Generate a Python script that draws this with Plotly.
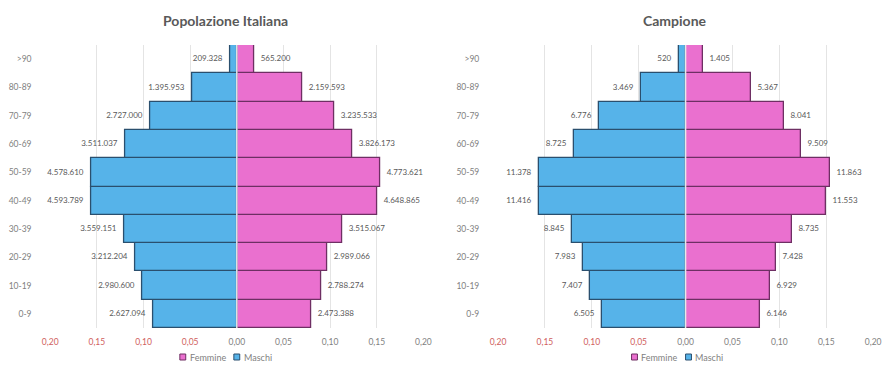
import plotly.graph_objects as go
from plotly.subplots import make_subplots

age_groups = ["0-9", "10-19", "20-29", "30-39", "40-49", "50-59", "60-69", "70-79", "80-89", ">90"]

ita_maschi = [2627094, 2980600, 3212204, 3559151, 4593789, 4578610, 3511037, 2727000, 1395953, 209328]
ita_femmine = [2473388, 2788274, 2989066, 3515067, 4648865, 4773621, 3826173, 3235533, 2159593, 565200]

camp_maschi = [6505, 7407, 7983, 8845, 11416, 11378, 8725, 6776, 3469, 520]
camp_femmine = [6146, 6929, 7428, 8735, 11553, 11863, 9509, 8041, 5367, 1405]

titles = ["Popolazione Italiana", "Campione"]
series_names = ["Femmine", "Maschi"]
tick_vals = [-0.20, -0.15, -0.10, -0.05, 0.0, 0.05, 0.10, 0.15, 0.20]

BLUE = "#56b3e9"
PINK = "#ea70cf"
BLUE_LINE = "#2a4f6e"
PINK_LINE = "#6e2f63"
FONT = "Lato"
GRAY = "#7f7f7f"
RED = "#d0605e"
NB = "\u00a0"


def fmt_it(n):
    return f"{n:,}".replace(",", ".")


def fmt_tick(v):
    s = f"{abs(v):.2f}".replace(".", ",")
    if v < 0:
        return f"<span style='color:{RED}'>{s}</span>"
    return s


fig = make_subplots(rows=1, cols=2, horizontal_spacing=0.08)

datasets = [(ita_maschi, ita_femmine), (camp_maschi, camp_femmine)]
for i, (m, f) in enumerate(datasets):
    col = i + 1
    tm = sum(m)
    tf = sum(f)
    fig.add_trace(go.Bar(
        y=age_groups, x=[v / tf for v in f], orientation="h", name=series_names[0],
        marker=dict(color=PINK, line=dict(color=PINK_LINE, width=1.3)),
        text=[NB * 2 + fmt_it(v) for v in f], textposition="outside",
        textfont=dict(family=FONT, size=8, color="#595959"),
        cliponaxis=False, showlegend=False, hoverinfo="skip"),
        row=1, col=col)
    fig.add_trace(go.Bar(
        y=age_groups, x=[-v / tm for v in m], orientation="h", name=series_names[1],
        marker=dict(color=BLUE, line=dict(color=BLUE_LINE, width=1.3)),
        text=[fmt_it(v) + NB * 2 for v in m], textposition="outside",
        textfont=dict(family=FONT, size=8, color="#595959"),
        cliponaxis=False, showlegend=False, hoverinfo="skip"),
        row=1, col=col)

x_domains = [[43 / 888, 423 / 888], [499 / 888, 881 / 888]]
y_domain = [(365 - 328) / 365, (365 - 45) / 365]
title_centers = [221, 679]
legend_centers = [221, 681]

for i in range(2):
    xa = "xaxis" if i == 0 else "xaxis2"
    ya = "yaxis" if i == 0 else "yaxis2"
    fig.layout[xa].update(
        domain=x_domains[i], range=[-0.2, 0.2], tickvals=tick_vals,
        ticktext=[fmt_tick(v) for v in tick_vals],
        showgrid=True, gridcolor="#e4e4e4", gridwidth=1, zeroline=False,
        showline=False, ticks="outside", ticklen=6, tickcolor="rgba(0,0,0,0)",
        tickfont=dict(family=FONT, size=8.5, color=GRAY), fixedrange=True)
    fig.layout[ya].update(
        domain=y_domain, showgrid=False, zeroline=False, showline=False,
        ticks="outside", ticklen=16, tickcolor="rgba(0,0,0,0)",
        tickfont=dict(family=FONT, size=8.5, color=GRAY), fixedrange=True)
    xref = "x" if i == 0 else "x2"
    fig.add_shape(type="line", xref=xref, yref="paper", x0=0, x1=0,
                  y0=y_domain[0], y1=y_domain[1],
                  line=dict(color="#e8e8e8", width=1.5), layer="above")
    fig.add_annotation(text=titles[i], xref="paper", yref="paper",
                       x=title_centers[i] / 888, y=(365 - 21) / 365,
                       xanchor="center", yanchor="middle", showarrow=False,
                       font=dict(family=FONT, size=14, color="#595959", weight="bold"))
    # custom compact legend
    lc = legend_centers[i]
    ly = 357
    for name, color, lcol, off in [(series_names[0], PINK, PINK_LINE, -43),
                                   (series_names[1], BLUE, BLUE_LINE, 12)]:
        sx = lc + off
        fig.add_shape(type="rect", xref="paper", yref="paper",
                      x0=(sx - 3) / 888, x1=(sx + 3) / 888,
                      y0=(365 - ly - 3) / 365, y1=(365 - ly + 3) / 365,
                      fillcolor=color, line=dict(color=lcol, width=1))
        fig.add_annotation(text=name, xref="paper", yref="paper",
                           x=(sx + 5) / 888, y=(365 - ly) / 365,
                           xanchor="left", yanchor="middle", showarrow=False,
                           font=dict(family=FONT, size=9, color=GRAY))

fig.update_layout(
    width=888, height=365, margin=dict(l=0, r=0, t=0, b=0),
    paper_bgcolor="white", plot_bgcolor="white",
    barmode="relative", bargap=0,
    font=dict(family=FONT, size=8, color=GRAY),
    showlegend=False,
)

fig.write_html("out.html")
